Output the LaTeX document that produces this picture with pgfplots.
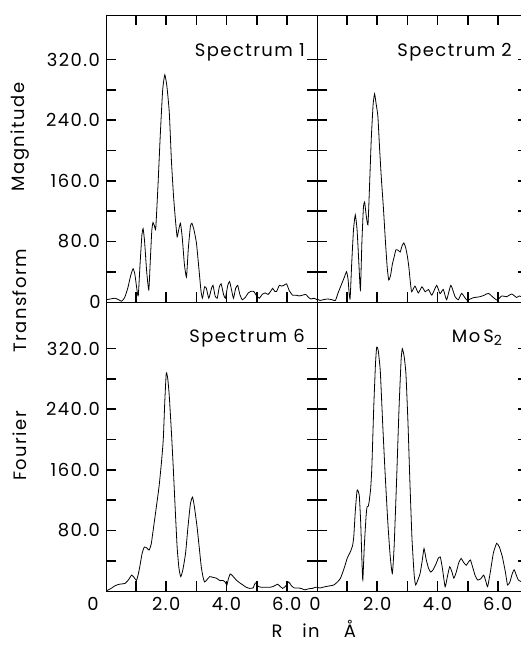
\documentclass[border=0pt]{standalone}
\usepackage{fontspec}
\setmainfont[LetterSpace=8]{Poppins}
\usepackage{pgfplots}
\pgfplotsset{compat=1.18}

\pgfplotsset{
  panel/.style={
    scale only axis, width=211bp, height=287bp, anchor=south west,
    xmin=0, xmax=7, ymin=0, ymax=379,
    axis line style={line width=0.9bp},
    tick style={line width=1.6bp, black},
    major tick length=10bp,
    tick align=inside,
    ytick={40,80,...,320},
    xtick={1,...,6},
    yticklabels={}, xticklabels={},
    /pgf/number format/assume math mode=true,
    cycle list={{black, line width=0.8bp, no marks}},
  },
  curve/.style={black, line width=0.8bp, smooth, tension=0.3},
}

\begin{document}
\fontsize{18}{21}\selectfont
\begin{tikzpicture}[x=1bp,y=1bp]
\useasboundingbox (0,0) rectangle (521,-645);

% ---------------- Spectrum 1 (top left)
\begin{axis}[panel, at={(106bp,-302bp)},
  yticklabels={,80.0,,160.0,,240.0,,320.0}]
\addplot[curve] coordinates {
(0.00,3) (0.15,4) (0.30,5) (0.42,3) (0.52,1) (0.62,6) (0.72,18) (0.82,35)
(0.90,44) (0.96,36) (1.02,18) (1.07,8) (1.13,50) (1.19,88) (1.23,97) (1.28,80)
(1.35,40) (1.42,16) (1.47,55) (1.52,95) (1.56,105) (1.61,100) (1.65,97) (1.72,150)
(1.80,220) (1.88,280) (1.95,300) (2.02,285) (2.10,250) (2.17,187) (2.24,140) (2.30,110)
(2.36,86) (2.41,95) (2.47,104) (2.53,85) (2.60,50) (2.67,33) (2.73,70) (2.80,100)
(2.85,104) (2.92,95) (3.00,78) (3.08,45) (3.15,15) (3.20,5) (3.27,20) (3.33,18)
(3.41,5) (3.50,18) (3.55,22) (3.62,8) (3.69,5) (3.76,20) (3.82,24) (3.90,10)
(3.96,5) (4.04,22) (4.10,27) (4.17,15) (4.23,5) (4.30,18) (4.37,22) (4.44,10)
(4.52,3) (4.62,6) (4.72,12) (4.80,14) (4.90,14) (5.00,8) (5.09,5) (5.18,10)
(5.28,12) (5.38,10) (5.46,14) (5.53,18) (5.60,14) (5.66,14) (5.75,22) (5.82,21)
(5.90,22) (5.99,24) (6.08,15) (6.19,9) (6.30,9) (6.41,8) (6.52,9) (6.63,10)
(6.72,6) (6.80,4) (6.90,5) (7.00,3)
};
\end{axis}

% ---------------- Spectrum 2 (top right)
\begin{axis}[panel, at={(317bp,-302bp)}]
\addplot[curve] coordinates {
(0.00,4) (0.10,2) (0.20,3) (0.35,4) (0.50,3) (0.61,2) (0.70,12) (0.80,22)
(0.90,32) (0.98,40) (1.03,30) (1.07,10) (1.10,5) (1.15,50) (1.21,95) (1.27,115)
(1.33,95) (1.39,50) (1.44,16) (1.49,80) (1.54,125) (1.58,132) (1.63,115) (1.69,102)
(1.74,150) (1.80,215) (1.86,260) (1.91,275) (1.96,262) (2.02,245) (2.08,200) (2.14,160)
(2.20,126) (2.27,80) (2.33,45) (2.38,29) (2.44,35) (2.50,50) (2.55,58) (2.62,69)
(2.70,68) (2.76,66) (2.82,74) (2.88,78) (2.94,72) (3.00,60) (3.05,45) (3.10,25)
(3.14,13.6) (3.25,21) (3.36,12) (3.48,20) (3.59,13.6) (3.70,16.5) (3.81,9) (3.97,22)
(4.08,11) (4.19,16.5) (4.30,3) (4.44,22) (4.58,7) (4.69,3) (4.80,11.4) (4.97,2.6)
(5.19,5.7) (5.41,7) (5.55,9) (5.69,11.4) (5.96,2.6) (6.13,8) (6.29,7) (6.46,10.6)
(6.62,6) (6.71,8) (6.85,6) (7.00,5)
};
\end{axis}

% ---------------- Spectrum 6 (bottom left)
\begin{axis}[panel, at={(106bp,-591bp)}, height=289bp, ymax=381.6,
  xtick pos=left,
  yticklabels={,80.0,,160.0,,240.0,,320.0},
  xticklabels={,2.0,,4.0,,6.0}]
\addplot[curve] coordinates {
(0.00,0) (0.15,3) (0.30,7) (0.45,9) (0.63,10) (0.75,15) (0.85,21) (0.93,18)
(1.01,14) (1.07,22) (1.12,32) (1.20,50) (1.27,58) (1.35,57) (1.43,54) (1.50,62)
(1.55,76) (1.65,105) (1.76,138) (1.84,170) (1.90,200) (1.95,250) (2.00,288) (2.05,280)
(2.10,257) (2.17,210) (2.23,164) (2.30,105) (2.36,58) (2.42,30) (2.48,19) (2.55,28)
(2.64,50) (2.72,85) (2.80,115) (2.87,124) (2.93,112) (3.02,85) (3.10,55) (3.16,32)
(3.22,18) (3.27,12) (3.33,14) (3.44,19) (3.55,18) (3.66,17) (3.77,14) (3.88,14)
(3.95,12) (4.01,8) (4.06,16) (4.12,22.5) (4.20,20) (4.32,14.5) (4.43,11) (4.54,8)
(4.65,5) (4.76,3.5) (4.88,4) (4.93,9) (4.98,11) (5.05,6) (5.15,5) (5.30,5)
(5.45,5) (5.55,6) (5.69,9) (5.78,6) (5.86,3.5) (5.95,6) (6.06,12) (6.15,7)
(6.25,4) (6.40,4) (6.50,3) (6.60,1.5) (6.72,3) (6.85,3.5) (6.95,5) (7.00,5)
};
\end{axis}

% ---------------- MoS2 (bottom right)
\begin{axis}[panel, at={(317bp,-591bp)}, height=289bp, ymax=381.6,
  xtick pos=left,
  xticklabels={,2.0,,4.0,,6.0}]
\addplot[curve] coordinates {
(0.00,5) (0.10,4) (0.27,5.7) (0.45,7) (0.56,8) (0.68,12) (0.78,17) (0.90,30)
(1.00,43) (1.11,52) (1.18,60) (1.22,72) (1.27,105) (1.33,133) (1.40,127) (1.45,90)
(1.49,40) (1.52,14.5) (1.57,60) (1.63,100) (1.66,111) (1.70,112) (1.73,118) (1.78,135)
(1.82,164) (1.88,240) (1.94,300) (1.98,322) (2.03,318) (2.10,290) (2.18,220) (2.26,155)
(2.35,90) (2.43,45) (2.50,23) (2.56,60) (2.64,146) (2.72,240) (2.79,305) (2.83,320)
(2.89,310) (2.95,287) (3.02,220) (3.08,146) (3.15,70) (3.22,23) (3.27,8) (3.35,15)
(3.42,23) (3.49,40) (3.55,56) (3.62,42) (3.70,30) (3.77,25) (3.85,28) (3.95,36)
(4.02,43) (4.09,45) (4.16,30) (4.25,5.7) (4.32,18) (4.40,32) (4.47,26) (4.54,17)
(4.62,25) (4.70,37) (4.78,43) (4.86,38) (4.95,34) (5.02,38) (5.09,41) (5.16,32)
(5.25,20) (5.33,14.5) (5.43,16) (5.53,21) (5.60,13) (5.66,5.7) (5.75,25) (5.85,50)
(5.96,63) (6.05,58) (6.15,45) (6.25,25) (6.32,8) (6.40,12) (6.47,22) (6.54,28)
(6.62,20) (6.68,14.5) (6.80,12) (7.00,10)
};
\end{axis}

% zero labels
\node at (95,-302) {0};
\node at (93,-604) {0};
\node at (315,-604) {0};

% panel titles
\node[anchor=base east, inner sep=0] at (305,-57) {Spectrum 1};
\node[anchor=base east, inner sep=0] at (512,-57) {Spectrum 2};
\node[anchor=base east, inner sep=0] at (305,-342) {Spectrum 6};
\node[anchor=base east, inner sep=0] at (502,-342) {Mo\,S\raisebox{-0.35ex}{\fontsize{14}{14}\selectfont 2}};

% axis titles
\node[rotate=90] at (20,-137) {Magnitude};
\node[rotate=90] at (20,-301) {Transform};
\node[rotate=90] at (20,-446) {Fourier};
\node[anchor=base, inner sep=0] at (277,-637) {R};
\node[anchor=base, inner sep=0] at (311,-637) {in};
\node[anchor=base, inner sep=0] at (350,-637) {Å};
\end{tikzpicture}
\end{document}
